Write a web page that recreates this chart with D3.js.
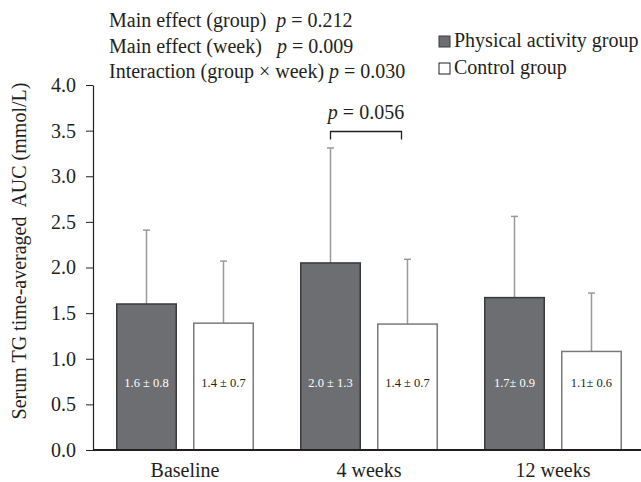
<!DOCTYPE html>
<html><head><meta charset="utf-8">
<script src="https://cdn.jsdelivr.net/npm/d3@7"></script>
<style>
html,body{margin:0;padding:0;background:#fff;}
svg{display:block;font-family:"Liberation Serif","Times New Roman",serif;}
</style></head>
<body>
<svg id="chart" width="641" height="482"></svg>
<script>
const categories = ["Baseline", "4 weeks", "12 weeks"];
const groups = ["Physical activity group", "Control group"];
const paMean = [1.6, 2.05, 1.67];
const paSD = [0.81, 1.26, 0.89];
const ctrlMean = [1.39, 1.38, 1.08];
const ctrlSD = [0.68, 0.71, 0.64];
const paLabels = ["1.6 \u00b1 0.8", "2.0 \u00b1 1.3", "1.7\u00b1 0.9"];
const ctrlLabels = ["1.4 \u00b1 0.7", "1.4 \u00b1 0.7", "1.1\u00b1 0.6"];
const yTicks = [0, 0.5, 1, 1.5, 2, 2.5, 3, 3.5, 4];
const statLines = [
  ["Main effect (group)  ", "p", " = 0.212"],
  ["Main effect (week)   ", "p", " = 0.009"],
  ["Interaction (group \u00d7 week) ", "p", " = 0.030"]
];
const bracketP = "0.056";

const FS = 20;
const svg = d3.select("#chart");
const x0 = 93, y0 = 450, yTop = 85;
const y = d3.scaleLinear().domain([0, 4]).range([y0, yTop]);
const x = d3.scaleBand().domain(categories).range([x0, x0 + 552]).padding(0);
const xs = d3.scaleBand().domain(groups).range([0, x.bandwidth()]).paddingInner(0.208).paddingOuter(0.299);

const data = [];
categories.forEach((c, i) => {
  data.push({cat: c, g: groups[0], m: paMean[i], sd: paSD[i], lab: paLabels[i]});
  data.push({cat: c, g: groups[1], m: ctrlMean[i], sd: ctrlSD[i], lab: ctrlLabels[i]});
});
const style = {
  [groups[0]]: {fill: "#6d6e71", stroke: "#3a3a3c", text: "#ffffff"},
  [groups[1]]: {fill: "#ffffff", stroke: "#7a7a7a", text: "#231f20"}
};
const cx = d => x(d.cat) + xs(d.g) + xs.bandwidth() / 2;

// error bars
const eb = svg.append("g");
data.forEach(d => {
  eb.append("line").attr("x1", cx(d)).attr("x2", cx(d))
    .attr("y1", y(d.m)).attr("y2", y(d.m + d.sd))
    .attr("stroke", "#9a9a9a").attr("stroke-width", 1.5);
  eb.append("line").attr("x1", cx(d) - 3.5).attr("x2", cx(d) + 3.5)
    .attr("y1", y(d.m + d.sd)).attr("y2", y(d.m + d.sd))
    .attr("stroke", "#9a9a9a").attr("stroke-width", 1.5);
});

// bars
svg.append("g").selectAll("rect").data(data).join("rect")
  .attr("x", d => x(d.cat) + xs(d.g) + 0.75)
  .attr("width", xs.bandwidth() - 1.5)
  .attr("y", d => y(d.m))
  .attr("height", d => y0 - y(d.m))
  .attr("fill", d => style[d.g].fill)
  .attr("stroke", d => style[d.g].stroke)
  .attr("stroke-width", 1.5);

// labels in bars
svg.append("g").selectAll("text").data(data).join("text")
  .attr("x", d => cx(d)).attr("y", 387)
  .attr("text-anchor", "middle")
  .attr("font-size", 12.5)
  .attr("fill", d => style[d.g].text)
  .text(d => d.lab);

// y axis
const yAxis = svg.append("g").attr("transform", `translate(${x0},0)`)
  .call(d3.axisLeft(y).tickValues(yTicks).tickFormat(d3.format(".1f")).tickSize(7).tickSizeOuter(0));
yAxis.select(".domain").attr("stroke", "#231f20").attr("stroke-width", 1.2);
yAxis.selectAll(".tick line").attr("stroke", "#231f20").attr("stroke-width", 1);
yAxis.selectAll(".tick text").attr("font-size", FS).attr("fill", "#231f20")
  .attr("font-family", "Liberation Serif, serif").attr("x", -17);

// x axis baseline
svg.append("line").attr("x1", x0).attr("x2", 641).attr("y1", y0).attr("y2", y0)
  .attr("stroke", "#231f20").attr("stroke-width", 2.2);

// category labels
svg.append("g").selectAll("text").data(categories).join("text")
  .attr("x", d => x(d) + x.bandwidth() / 2).attr("y", 477)
  .attr("text-anchor", "middle").attr("font-size", FS).attr("fill", "#231f20")
  .text(d => d);

// y title
svg.append("text")
  .attr("transform", `translate(26,251) rotate(-90)`)
  .attr("text-anchor", "middle").attr("font-size", FS).attr("fill", "#231f20")
  .attr("xml:space", "preserve")
  .text("Serum TG time-averaged  AUC (mmol/L)");

// stats lines
statLines.forEach((l, i) => {
  const t = svg.append("text").attr("x", 109).attr("y", 27 + i * 25.5)
    .attr("font-size", FS).attr("fill", "#231f20").attr("xml:space", "preserve");
  t.append("tspan").text(l[0]);
  t.append("tspan").attr("font-style", "italic").text(l[1]);
  t.append("tspan").text(l[2]);
});

// legend
groups.forEach((g, i) => {
  const yy = 36 + i * 27;
  svg.append("rect").attr("x", 439).attr("y", yy).attr("width", 11).attr("height", 11)
    .attr("fill", style[g].fill).attr("stroke", i === 0 ? "#3a3a3c" : "#231f20").attr("stroke-width", 1);
  svg.append("text").attr("x", 454).attr("y", yy + 11).attr("font-size", FS).attr("fill", "#231f20").text(g);
});

// bracket
const bx1 = x(categories[1]) + xs(groups[0]) + xs.bandwidth() / 2;
const bx2 = x(categories[1]) + xs(groups[1]) + xs.bandwidth() / 2 - 6;
const by = 131.5;
svg.append("path").attr("d", `M${bx1},${by + 8}V${by}H${bx2}V${by + 8}`)
  .attr("fill", "none").attr("stroke", "#231f20").attr("stroke-width", 1.3);
const pt = svg.append("text").attr("x", (bx1 + bx2) / 2).attr("y", 119)
  .attr("text-anchor", "middle").attr("font-size", FS).attr("fill", "#231f20");
pt.append("tspan").attr("font-style", "italic").text("p");
pt.append("tspan").text(" = " + bracketP);
</script>
</body></html>
